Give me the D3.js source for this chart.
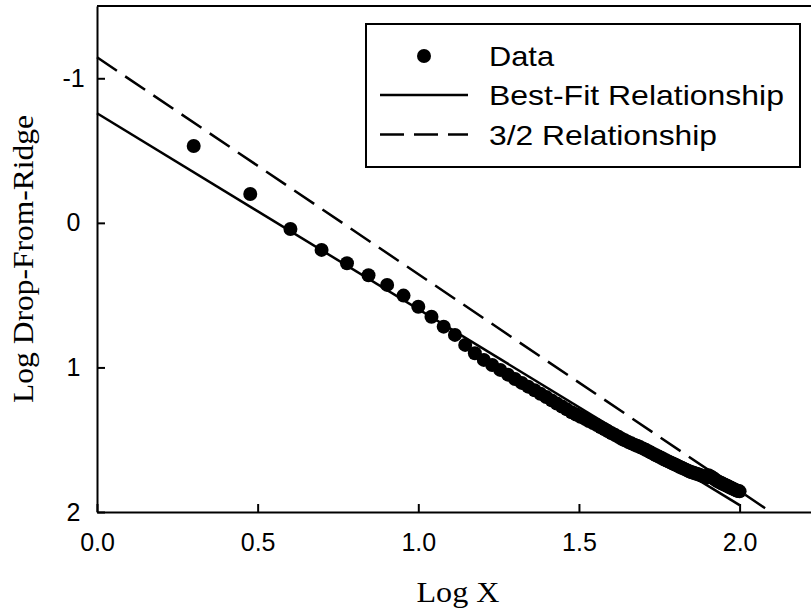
<!DOCTYPE html>
<html lang="en">
  <head>
    <meta charset="utf-8">
    <title>Log Drop-From-Ridge vs Log X</title>
    <script src="https://cdn.jsdelivr.net/npm/d3@7/dist/d3.min.js"></script>
    <style>
      body { margin: 0; background: #fff; }
      svg { display: block; }
      .tick text { font-family: "Liberation Sans", Arial, sans-serif; font-size: 25px; fill: #000; }
      .title { font-family: "Liberation Serif", "Times New Roman", serif; font-size: 29px; fill: #000; }
      .legend text { font-family: "Liberation Sans", Arial, sans-serif; font-size: 28px; fill: #000; }
    </style>
  </head>
  <body>
    <div id="chart"></div>
  </body>
</html>

<script>

// log10 of n = 2..100
const logX = [
  0.301, 0.477, 0.602, 0.699, 0.778, 0.845, 0.903, 0.954, 1.000, 1.041,
  1.079, 1.114, 1.146, 1.176, 1.204, 1.230, 1.255, 1.279, 1.301, 1.322,
  1.342, 1.362, 1.380, 1.398, 1.415, 1.431, 1.447, 1.462, 1.477, 1.491,
  1.505, 1.519, 1.531, 1.544, 1.556, 1.568, 1.580, 1.591, 1.602, 1.613,
  1.623, 1.633, 1.643, 1.653, 1.663, 1.672, 1.681, 1.690, 1.699, 1.708,
  1.716, 1.724, 1.732, 1.740, 1.748, 1.756, 1.763, 1.771, 1.778, 1.785,
  1.792, 1.799, 1.806, 1.813, 1.820, 1.826, 1.833, 1.839, 1.845, 1.851,
  1.857, 1.863, 1.869, 1.875, 1.881, 1.886, 1.892, 1.898, 1.903, 1.908,
  1.914, 1.919, 1.924, 1.929, 1.934, 1.940, 1.944, 1.949, 1.954, 1.959,
  1.964, 1.968, 1.973, 1.978, 1.982, 1.987, 1.991, 1.996, 2.000
];

const logDrop = [
  -0.532, -0.200, 0.042, 0.187, 0.279, 0.362, 0.429, 0.503, 0.580, 0.649,
  0.718, 0.775, 0.844, 0.902, 0.948, 0.983, 1.017, 1.050, 1.080, 1.107,
  1.133, 1.158, 1.182, 1.205, 1.228, 1.249, 1.270, 1.290, 1.310, 1.326,
  1.341, 1.356, 1.371, 1.385, 1.399, 1.414, 1.428, 1.442, 1.455, 1.468,
  1.480, 1.493, 1.504, 1.515, 1.525, 1.534, 1.542, 1.551, 1.560, 1.570,
  1.579, 1.589, 1.598, 1.607, 1.616, 1.625, 1.633, 1.642, 1.650, 1.657,
  1.665, 1.672, 1.679, 1.687, 1.694, 1.700, 1.707, 1.714, 1.720, 1.725,
  1.729, 1.734, 1.738, 1.743, 1.748, 1.752, 1.756, 1.761, 1.745, 1.752,
  1.760, 1.768, 1.776, 1.784, 1.790, 1.796, 1.801, 1.806, 1.811, 1.817,
  1.822, 1.827, 1.832, 1.837, 1.842, 1.847, 1.851, 1.855, 1.857
];

// end points of the two reference lines
const bestFitX = [0, 2.0];
const bestFitY = [-0.758, 1.952];
const ratioX = [0, 2.097];
const ratioY = [-1.145, 2.0];

const xTicks = [0, 0.5, 1.0, 1.5, 2.0];
const yTicks = [-1, 0, 1, 2];

const legendLabels = ["Data", "Best-Fit Relationship", "3/2 Relationship"];

const width = 811;
const height = 611;
const margin = { top: 6, left: 97, bottom: 99 };

const x = d3.scaleLinear().domain([0, 2.25]).range([margin.left, margin.left + 2.25 * 321.3]);
const y = d3.scaleLinear().domain([-1.5, 2]).range([margin.top, height - margin.bottom]);

const svg = d3.select("#chart")
  .append("svg")
  .attr("width", width)
  .attr("height", height);

const line = d3.line().x(d => x(d[0])).y(d => y(d[1]));

// reference lines
svg.append("path")
  .datum(d3.zip(ratioX, ratioY))
  .attr("d", line)
  .style("fill", "none")
  .style("stroke", "#000")
  .style("stroke-width", 2.5)
  .style("stroke-dasharray", "24,10");

svg.append("path")
  .datum(d3.zip(bestFitX, bestFitY))
  .attr("d", line)
  .style("fill", "none")
  .style("stroke", "#000")
  .style("stroke-width", 2.5);

// data
svg.append("g")
  .selectAll("circle")
  .data(d3.zip(logX, logDrop))
  .join("circle")
  .attr("cx", d => x(d[0]))
  .attr("cy", d => y(d[1]))
  .attr("r", 7)
  .style("fill", "#000");

// axes
const xAxis = svg.append("g")
  .attr("transform", `translate(0, ${y(2)})`)
  .call(d3.axisBottom(x).tickValues(xTicks).tickFormat(d3.format(".1f")).tickSize(-8).tickSizeOuter(0));

xAxis.selectAll(".tick text").attr("y", 21).attr("dy", "0.71em");

const yAxis = svg.append("g")
  .attr("transform", `translate(${x(0)}, 0)`)
  .call(d3.axisLeft(y).tickValues(yTicks).tickFormat(d => String(d)).tickSize(-8).tickSizeOuter(0));

yAxis.selectAll(".tick text").attr("x", -23.5).attr("text-anchor", "middle");

svg.selectAll(".domain").style("stroke-width", 2);
svg.selectAll(".tick line").style("stroke-width", 2);

// top frame line
svg.append("line")
  .attr("x1", x(0)).attr("x2", width)
  .attr("y1", y(-1.5)).attr("y2", y(-1.5))
  .style("stroke", "#000")
  .style("stroke-width", 2);

// axis titles
svg.append("text")
  .attr("class", "title")
  .attr("x", 458)
  .attr("y", 602)
  .attr("text-anchor", "middle")
  .attr("textLength", 83)
  .attr("lengthAdjust", "spacingAndGlyphs")
  .text("Log X");

svg.append("text")
  .attr("class", "title")
  .attr("transform", "translate(33, 259) rotate(-90)")
  .attr("text-anchor", "middle")
  .attr("textLength", 288)
  .attr("lengthAdjust", "spacingAndGlyphs")
  .text("Log Drop-From-Ridge");

// legend
const legend = svg.append("g").attr("class", "legend");

legend.append("rect")
  .attr("x", 366).attr("y", 24)
  .attr("width", 434).attr("height", 143)
  .style("fill", "#fff")
  .style("stroke", "#000")
  .style("stroke-width", 2);

const rowY = [56, 95, 134.5];
const textLen = [65, 295, 228];

legend.append("circle")
  .attr("cx", 424).attr("cy", rowY[0])
  .attr("r", 7)
  .style("fill", "#000");

legend.append("line")
  .attr("x1", 380).attr("x2", 468)
  .attr("y1", rowY[1]).attr("y2", rowY[1])
  .style("stroke", "#000")
  .style("stroke-width", 2.5);

legend.append("line")
  .attr("x1", 380).attr("x2", 468)
  .attr("y1", rowY[2]).attr("y2", rowY[2])
  .style("stroke", "#000")
  .style("stroke-width", 2.5)
  .style("stroke-dasharray", "24,10");

legend.selectAll("text")
  .data(legendLabels)
  .join("text")
  .attr("x", 489)
  .attr("y", (d, i) => rowY[i] + 10)
  .attr("textLength", (d, i) => textLen[i])
  .attr("lengthAdjust", "spacingAndGlyphs")
  .text(d => d);

</script>
